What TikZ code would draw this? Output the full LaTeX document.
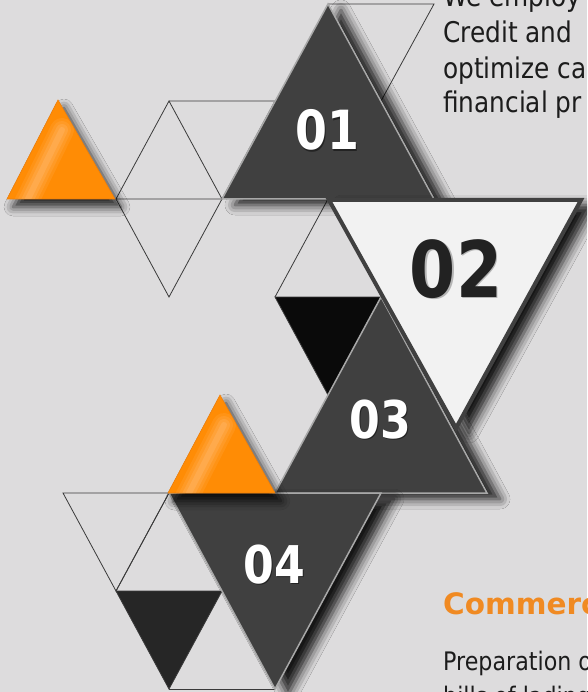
\documentclass[tikz,border=0pt]{standalone}
\usepackage{fontspec}
\setmainfont{DejaVu Sans}
\newfontfamily\txtfont[FakeStretch=0.87]{DejaVu Sans}
\newfontfamily\numfont[FakeStretch=0.85]{DejaVu Sans}
\usetikzlibrary{shadows.blur}
\definecolor{bg}{HTML}{DDDCDD}
\definecolor{tri}{HTML}{404040}
\definecolor{triedge}{HTML}{A8A8A8}
\definecolor{lineg}{HTML}{3A3A3A}
\definecolor{pale}{HTML}{F2F2F2}
\definecolor{blk}{HTML}{0A0A0A}
\definecolor{blktwo}{HTML}{262626}
\definecolor{orA}{HTML}{F0800A}
\definecolor{orB}{HTML}{FFC890}
\definecolor{orC}{HTML}{FF8C05}
\definecolor{txt}{HTML}{1C1C1C}
\definecolor{head}{HTML}{F08A22}
\definecolor{numdark}{HTML}{222222}
\tikzset{
  outl/.style={draw=lineg, line width=0.8pt, line join=miter},
  darktri/.style={fill=tri, draw=triedge, line width=1.5pt, line join=miter,
    blur shadow={shadow xshift=13pt, shadow yshift=-6pt, shadow blur radius=10pt, shadow opacity=90}},
  paletri/.style={fill=pale, draw=tri, line width=4pt, line join=miter,
    blur shadow={shadow xshift=13pt, shadow yshift=-5pt, shadow blur radius=10pt, shadow opacity=90}},
  ortri/.style={fill=orC, draw=orA, line width=0.6pt,
    blur shadow={shadow xshift=6pt, shadow yshift=-8pt, shadow blur radius=9pt, shadow opacity=85}},
  glow/.style={draw=orB, line cap=round},
  numw/.style={inner sep=0pt, anchor=base, text=white, font=\numfont\bfseries\fontsize{#1}{#1}\selectfont},
  nums/.style={inner sep=0pt, anchor=base, text=black, opacity=0.45, font=\numfont\bfseries\fontsize{#1}{#1}\selectfont},
  bodytxt/.style={inner sep=0pt, anchor=base west, text=txt, font=\txtfont\fontsize{#1}{#1}\selectfont},
  headtxt/.style={inner sep=0pt, anchor=base west, text=head, font=\bfseries\fontsize{29.5}{29.5}\selectfont},
}
\begin{document}
\begin{tikzpicture}[x=1pt,y=-1pt]
\useasboundingbox (0,0) rectangle (587,692);
\clip (0,0) rectangle (587,692);
\fill[bg] (0,0) rectangle (587,692);

% outline grid triangles
\draw[outl] (116,199) -- (222,199) -- (169,101) -- cycle;
\draw[outl] (116,199) -- (169,297) -- (222,199);
\draw[outl] (169,101) -- (275,101) -- (222,199);
\draw[outl] (328,4) -- (434,4) -- (381,101);
\draw[outl] (275,297) -- (328,199);
\filldraw[outl, fill=blk] (275,297) -- (381,297) -- (328,395) -- cycle;
\draw[outl] (63,493) -- (169,493) -- (116,591) -- cycle;
\draw[outl] (116,591) -- (169,493);
\filldraw[outl, fill=blktwo] (116,591) -- (222,591) -- (169,689) -- cycle;
\draw[outl] (169,689) -- (275,689);

% big triangles
\path[darktri] (222,199) -- (434,199) -- (328,4) -- cycle;
\path[darktri] (275,493) -- (487,493) -- (381,297) -- cycle;
\path[paletri] (329,200) -- (581,200) -- (456,428) -- cycle;
\path[darktri] (169,493) -- (381,493) -- (275,689) -- cycle;

% orange triangles
\path[ortri] (7,199) -- (115,199) -- (58,100) -- cycle;
\begin{scope}
  \clip (7,199) -- (115,199) -- (58,100) -- cycle;
  \foreach \w/\o in {24/0.12, 18/0.14, 12/0.18, 6/0.22}
    \draw[glow, line width=\w pt, opacity=\o] (26,203) -- (62,130);
\end{scope}
\path[ortri] (168,493) -- (275,493) -- (220,395) -- cycle;
\begin{scope}
  \clip (168,493) -- (275,493) -- (220,395) -- cycle;
  \foreach \w/\o in {24/0.12, 18/0.14, 12/0.18, 6/0.22}
    \draw[glow, line width=\w pt, opacity=\o] (187,497) -- (224,425);
\end{scope}

% numbers
\node[nums=54] (n01s) at (328.5,151.5) {01};
\node[numw=54] (n01) at (327,150) {01};
\node[nums=78, opacity=0.25] (n02s) at (457.5,298.5) {02};
\node[numw=78, text=numdark] (n02) at (456,297) {02};
\node[nums=52] (n03s) at (381.5,439.5) {03};
\node[numw=52] (n03) at (380,438) {03};
\node[nums=52] (n04s) at (275.5,584.5) {04};
\node[numw=52] (n04) at (274,583) {04};

% texts
\node[bodytxt=28.5] (t1) at (443,7) {We employ};
\node[bodytxt=28.5] (t2) at (443,43) {Credit and};
\node[bodytxt=28.5] (t3) at (443,79) {optimize ca};
\node[bodytxt=28.5] (t4) at (443,113) {financial pr};
\node[headtxt] (h1) at (443,614) {Commerc};
\node[bodytxt=25.5] (t5) at (443,670) {Preparation o};
\node[bodytxt=25.5] (t6) at (443,705) {bills of lading};
\end{tikzpicture}
\end{document}
